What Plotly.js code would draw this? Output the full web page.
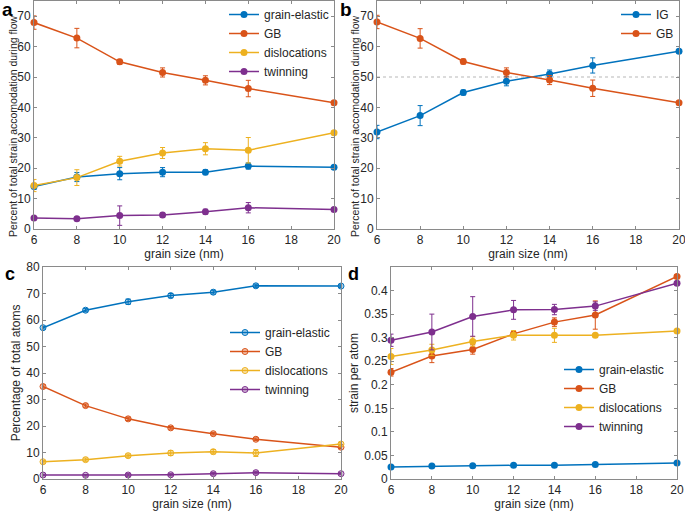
<!DOCTYPE html>
<html>
<head>
<meta charset="utf-8">
<script src="https://cdn.plot.ly/plotly-3.0.1.min.js"></script>
<style>html,body{margin:0;padding:0;background:#fff;}#chart{width:685px;height:512px;}</style>
</head>
<body>
<div id="chart"></div>
<script>
// ---------- data ----------
const grainSize = [6, 8, 10, 12, 14, 16, 20];
const xTicks = [6, 8, 10, 12, 14, 16, 18, 20];

// panel a: percent of total strain accommodation during flow
const aElastic = [14.0, 17.1, 18.2, 18.7, 18.7, 20.7, 20.3];
const aElasticErr = [1.0, 1.5, 2.0, 1.5, 0.8, 1.0, 0.6];
const aGB = [67.9, 62.8, 55.0, 51.5, 48.9, 46.2, 41.5];
const aGBErr = [2.2, 3.2, 0.8, 1.5, 1.5, 2.7, 0.6];
const aDisl = [14.3, 16.9, 22.3, 25.0, 26.4, 25.9, 31.7];
const aDislErr = [2.0, 2.6, 1.6, 1.8, 2.0, 4.2, 0.6];
const aTwin = [3.6, 3.4, 4.4, 4.6, 5.7, 7.0, 6.4];
const aTwinErr = [0.5, 0.5, 3.2, 0.7, 0.8, 1.7, 0.5];

// panel b
const bIG = [31.9, 37.3, 44.9, 48.6, 51.0, 53.8, 58.5];
const bIGErr = [2.2, 3.3, 0.8, 1.5, 1.3, 2.5, 0.6];
const bGB = [68.1, 62.7, 55.1, 51.5, 49.0, 46.3, 41.5];
const bGBErr = [2.2, 3.2, 0.8, 1.5, 1.5, 2.7, 0.6];
const bRef = [50, 50];
const bRefX = [6, 20];

// panel c: percentage of total atoms
const cElastic = [57.1, 63.7, 66.9, 69.2, 70.5, 72.9, 72.8];
const cElasticErr = [0.5, 0.6, 1.0, 0.8, 0.7, 0.6, 0.5];
const cGB = [34.9, 27.7, 22.7, 19.3, 17.1, 15.0, 12.0];
const cGBErr = [0.6, 0.6, 0.6, 0.5, 0.5, 0.5, 0.5];
const cDisl = [6.5, 7.3, 8.8, 9.8, 10.3, 9.8, 13.2];
const cDislErr = [0.5, 0.6, 0.6, 0.9, 0.8, 1.3, 0.6];
const cTwin = [1.5, 1.4, 1.5, 1.6, 2.0, 2.4, 2.0];
const cTwinErr = [0.3, 0.3, 0.5, 0.4, 0.5, 0.5, 0.4];

// panel d: strain per atom
const dElastic = [0.0255, 0.0276, 0.0283, 0.029, 0.029, 0.031, 0.034];
const dElasticErr = [0.002, 0.002, 0.002, 0.002, 0.002, 0.002, 0.002];
const dGB = [0.2265, 0.261, 0.275, 0.308, 0.333, 0.348, 0.430];
const dGBErr = [0.008, 0.014, 0.010, 0.005, 0.009, 0.030, 0.004];
const dDisl = [0.260, 0.274, 0.292, 0.305, 0.305, 0.305, 0.314];
const dDislErr = [0.017, 0.012, 0.010, 0.010, 0.015, 0.004, 0.003];
const dTwin = [0.2945, 0.312, 0.345, 0.359, 0.3597, 0.367, 0.4156];
const dTwinErr = [0.013, 0.038, 0.042, 0.020, 0.011, 0.009, 0.003];
const dTickVals = [0, 0.05, 0.1, 0.15, 0.2, 0.25, 0.3, 0.35, 0.4];
const dTickText = ['0', '0.05', '0.1', '0.15', '0.2', '0.25', '0.3', '0.35', '0.4'];

// ---------- style ----------
const W = 685, H = 512;
const px = v => v / W;
const py = v => 1 - v / H;
const C = {blue: '#0072BD', orange: '#D95319', yellow: '#EDB120', purple: '#7E2F8E'};
const FONT = 'Helvetica, Arial, "Liberation Sans", sans-serif';
const TXT = '#262626';
const AX = '#8a8a8a';

function series(x, y, err, name, color, xa, ya, legend, open) {
  return {
    type: 'scatter', mode: 'lines+markers', x: x, y: y, name: name,
    xaxis: xa, yaxis: ya, legend: legend, cliponaxis: false,
    line: {color: color, width: 1.5},
    marker: open
      ? {symbol: 'circle', size: 6, color: color + '55', line: {color: color, width: 1}}
      : {symbol: 'circle', size: 7, color: color},
    error_y: {type: 'data', array: err, visible: true, color: color, thickness: 1, width: 2.5}
  };
}

const traces = [
  series(grainSize, aElastic, aElasticErr, 'grain-elastic', C.blue, 'x', 'y', 'legend'),
  series(grainSize, aGB, aGBErr, 'GB', C.orange, 'x', 'y', 'legend'),
  series(grainSize, aDisl, aDislErr, 'dislocations', C.yellow, 'x', 'y', 'legend'),
  series(grainSize, aTwin, aTwinErr, 'twinning', C.purple, 'x', 'y', 'legend'),
  {type: 'scatter', mode: 'lines', x: bRefX, y: bRef, xaxis: 'x2', yaxis: 'y2', showlegend: false,
   line: {color: '#9a9a9a', width: 0.7, dash: 'dot'}, hoverinfo: 'skip'},
  series(grainSize, bIG, bIGErr, 'IG', C.blue, 'x2', 'y2', 'legend2'),
  series(grainSize, bGB, bGBErr, 'GB', C.orange, 'x2', 'y2', 'legend2'),
  series(grainSize, cElastic, cElasticErr, 'grain-elastic', C.blue, 'x3', 'y3', 'legend3', true),
  series(grainSize, cGB, cGBErr, 'GB', C.orange, 'x3', 'y3', 'legend3', true),
  series(grainSize, cDisl, cDislErr, 'dislocations', C.yellow, 'x3', 'y3', 'legend3', true),
  series(grainSize, cTwin, cTwinErr, 'twinning', C.purple, 'x3', 'y3', 'legend3', true),
  series(grainSize, dElastic, dElasticErr, 'grain-elastic', C.blue, 'x4', 'y4', 'legend4'),
  series(grainSize, dGB, dGBErr, 'GB', C.orange, 'x4', 'y4', 'legend4'),
  series(grainSize, dDisl, dDislErr, 'dislocations', C.yellow, 'x4', 'y4', 'legend4'),
  series(grainSize, dTwin, dTwinErr, 'twinning', C.purple, 'x4', 'y4', 'legend4')
];

function xaxis(domain, anchor) {
  return {
    domain: domain, anchor: anchor, range: [6, 20], tickvals: xTicks,
    showgrid: false, zeroline: false, showline: true, linecolor: AX, linewidth: 1,
    mirror: 'ticks', ticks: 'inside', ticklen: 3, tickcolor: AX,
    ticklabeloverflow: 'allow',
    tickfont: {size: 12, color: TXT, family: FONT},
    title: {text: 'grain size (nm)', font: {size: 12, color: TXT, family: FONT}, standoff: 2}
  };
}
function yaxis(domain, anchor, range, dtick, title, extra) {
  return Object.assign({
    domain: domain, anchor: anchor, range: range, dtick: dtick,
    showgrid: false, zeroline: false, showline: true, linecolor: AX, linewidth: 1,
    mirror: 'ticks', ticks: 'inside', ticklen: 3, tickcolor: AX,
    tickfont: {size: 12, color: TXT, family: FONT},
    title: {text: title, font: {size: 12, color: TXT, family: FONT}, standoff: 3}
  }, extra || {});
}

const yTopDom = [py(229), py(1)];
const yBotDom = [py(479), py(267)];
const pctTitle = 'Percent of total strain accomodation during flow';

function legend(x, y) {
  return {x: px(x), y: py(y), xref: 'paper', yref: 'paper', xanchor: 'left', yanchor: 'top',
          bgcolor: 'rgba(0,0,0,0)', borderwidth: 0, itemwidth: 30, tracegroupgap: 0,
          font: {size: 12, color: TXT, family: FONT}};
}

function label(t, x, y, size) {
  return {text: '<b>' + t + '</b>', x: px(x), y: py(y), xref: 'paper', yref: 'paper',
          xanchor: 'left', yanchor: 'top', showarrow: false,
          font: {size: size, color: '#000', family: 'Arial, "Liberation Sans", sans-serif'}};
}
function vtitle(t, x, y) {
  return {text: t, x: px(x), y: py(y), xref: 'paper', yref: 'paper', textangle: -90,
          xanchor: 'center', yanchor: 'middle', showarrow: false,
          font: {size: 10.5, color: TXT, family: FONT}};
}

const layout = {
  width: W, height: H, margin: {l: 0, r: 0, t: 0, b: 0},
  paper_bgcolor: '#fff', plot_bgcolor: '#fff', showlegend: true,
  font: {family: FONT, color: TXT},
  xaxis: xaxis([px(34), px(334)], 'y'),
  yaxis: yaxis(yTopDom, 'x', [0, 75], 10, ''),
  xaxis2: xaxis([px(377), px(679)], 'y2'),
  yaxis2: yaxis(yTopDom, 'x2', [0, 75], 10, ''),
  xaxis3: xaxis([px(43), px(341)], 'y3'),
  yaxis3: yaxis(yBotDom, 'x3', [0, 80], 10, 'Percentage of total atoms'),
  xaxis4: xaxis([px(391), px(677)], 'y4'),
  yaxis4: yaxis(yBotDom, 'x4', [0, 0.45], null, 'strain per atom', {tickvals: dTickVals, ticktext: dTickText}),
  legend: legend(224, 0),
  legend2: legend(616, 0),
  legend3: legend(225, 318),
  legend4: legend(559, 355),
  annotations: [
    vtitle(pctTitle, 13, 126),
    vtitle(pctTitle, 355, 126),
    label('a', 0, -3, 19),
    label('b', 338, -3, 19),
    label('c', 3, 262, 18),
    label('d', 346, 262, 18)
  ]
};

Plotly.newPlot('chart', traces, layout, {displayModeBar: false, staticPlot: true});
</script>
</body>
</html>
